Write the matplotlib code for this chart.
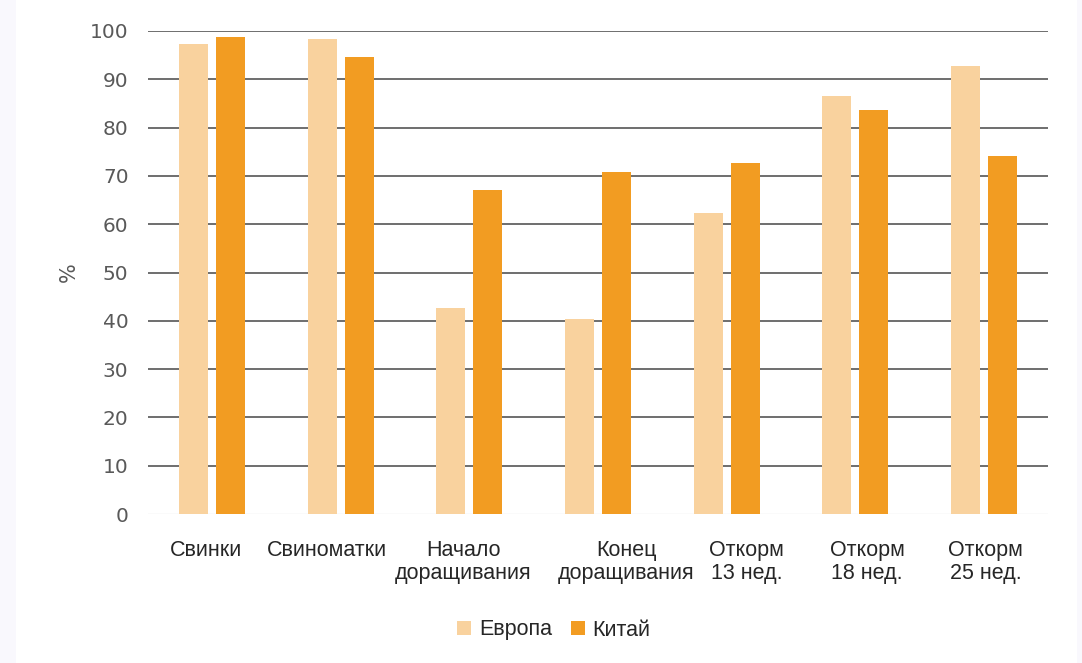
import matplotlib.pyplot as plt
import matplotlib.transforms as mtrans
import numpy as np
from matplotlib.patches import Rectangle

categories = ["Свинки", "Свиноматки", "Начало\nдоращивания", "Конец\nдоращивания",
              "Откорм\n13 нед.", "Откорм\n18 нед.", "Откорм\n25 нед."]
europe = [97.3, 98.3, 42.6, 40.4, 62.3, 86.5, 92.8]
china = [98.8, 94.6, 67.1, 70.8, 72.7, 83.6, 74.1]
yticks = list(range(0, 101, 10))
series_names = ["Европа", "Китай"]

# horizontal nudges (pixels) of the category captions under each group
label_shift_px = [-6, -14, -6, 28, 20, 12, 2]

c_eu = "#F9D29E"
c_cn = "#F29C22"

fig = plt.figure(figsize=(10.82, 6.63), dpi=100)
fig.patch.set_facecolor("white")
# pale side margins
fig.add_artist(Rectangle((0, 0), 16 / 1082, 1, transform=fig.transFigure,
                         facecolor="#F9F8FD", edgecolor="none", zorder=0))
fig.add_artist(Rectangle((1077 / 1082, 0), 5 / 1082, 1, transform=fig.transFigure,
                         facecolor="#F9F8FD", edgecolor="none", zorder=0))

ax = fig.add_axes([148 / 1082, 1 - 514 / 663, 900 / 1082, 483 / 663])
x = np.arange(len(categories))
w = 0.225
off = 0.144
ax.bar(x - off, europe, w, color=c_eu, label=series_names[0], zorder=3)
ax.bar(x + off, china, w, color=c_cn, label=series_names[1], zorder=3)

ax.set_xlim(-0.5, len(categories) - 0.5)
ax.set_ylim(0, 100)
ax.set_yticks(yticks)
for v in yticks[1:]:
    ax.axhline(v, color="#555555", lw=1.2, zorder=1)
ax.axhline(0, color="#E8E8E8", lw=1.0, zorder=1)
for s in ax.spines.values():
    s.set_visible(False)
ax.tick_params(axis="both", length=0)
ax.tick_params(axis="y", pad=14, labelsize=14.5, labelcolor="#595959")
ax.set_yticklabels([str(v) for v in yticks], family="DejaVu Sans")
ax.set_xticks(x)
ax.set_xticklabels(categories, fontsize=15.5, color="#262626",
                   family="Liberation Sans", linespacing=1.1)
ax.tick_params(axis="x", pad=19)
for lbl, dx in zip(ax.get_xticklabels(), label_shift_px):
    lbl.set_transform(lbl.get_transform() +
                      mtrans.ScaledTranslation(dx / 100, 0, fig.dpi_scale_trans))
ax.set_ylabel("%", fontsize=15, color="#595959", labelpad=8)

leg = fig.legend(loc="center", bbox_to_anchor=(554 / 1082, 1 - 630 / 663), ncol=2,
                 frameon=False, handlelength=0.65, handleheight=0.65, handletextpad=0.35,
                 columnspacing=0.9,
                 prop={"family": "Liberation Sans", "size": 15.5})
for t in leg.get_texts():
    t.set_color("#262626")

fig.savefig("out.png", dpi=100, facecolor=fig.get_facecolor())
